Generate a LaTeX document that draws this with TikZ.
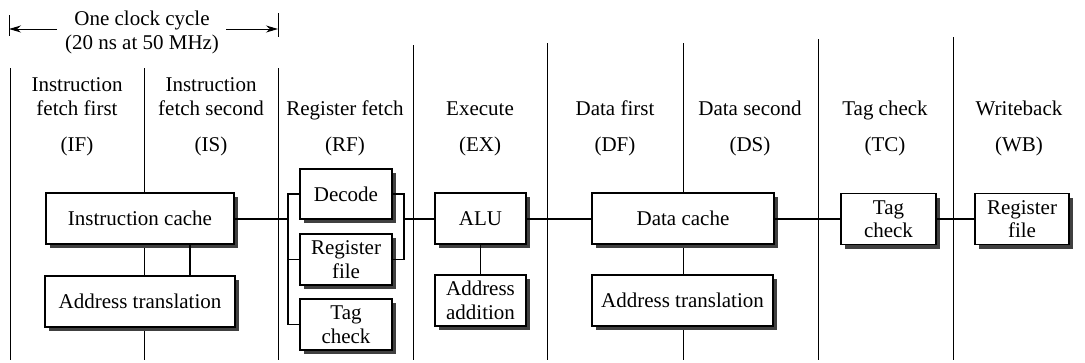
\documentclass[tikz,border=0pt]{standalone}
\usepackage{fontspec}
\setmainfont{Liberation Serif}
\usetikzlibrary{arrows.meta,shadows}

\begin{document}
\begin{tikzpicture}[x=1pt,y=-1pt,
  every node/.style={font=\fontsize{21}{23.5}\selectfont},
  divider/.style={line width=0.8pt},
  link/.style={line width=1.4pt},
  stagebox/.style={draw, line width=1.2pt, fill=white, inner sep=0pt,
    minimum height=51pt, align=center,
    drop shadow={shadow xshift=4pt, shadow yshift=-4pt, fill=black!75, opacity=1}},
  head/.style={anchor=base, align=center, inner sep=0pt},
  timing/.style={line width=1pt, -{Stealth[length=12pt,width=7pt]}}
]
\useasboundingbox (0,0) rectangle (1085,362);

% clock-cycle span
\coordinate (tl1) at (9,15);  \coordinate (tl2) at (9,36);
\coordinate (tr1) at (278,13); \coordinate (tr2) at (278,37);
\draw[divider] (tl1) -- (tl2);
\draw[divider] (tr1) -- (tr2);
\node[head] (cyc1) at (142,25) {One clock cycle};
\node[head] (cyc2) at (142,49) {(20 ns at 50 MHz)};
\coordinate (al) at (57,29);  \coordinate (alt) at (9,29);
\coordinate (ar) at (226,29); \coordinate (art) at (278,29);
\draw[timing] (al) -- (alt);
\draw[timing] (ar) -- (art);

% stage dividers
\foreach \x/\t in {10/68, 144/68, 278/68, 413/45, 547/43, 683/43, 818/39, 953/37}
  \draw[divider] (\x,\t) -- (\x,360);

% stage names (multi-line nodes sit on the baseline of their last line)
\node[head] (hIF) at (77,115)  {Instruction\\fetch first};
\node[head] (hIS) at (211,115) {Instruction\\fetch second};
\node[head] (hRF) at (345,115) {Register fetch};
\node[head] (hEX) at (480,115) {Execute};
\node[head] (hDF) at (615,115) {Data first};
\node[head] (hDS) at (750,115) {Data second};
\node[head] (hTC) at (885,115) {Tag check};
\node[head] (hWB) at (1019,115) {Writeback};
\foreach \x/\a in {77/IF, 211/IS, 345/RF, 480/EX, 615/DF, 750/DS, 885/TC, 1019/WB}
  \node[head] (ab\a) at (\x,151) {(\a)};

% pipeline units
\node[stagebox, minimum width=188pt] (ic)   at (140,218.5) {Instruction cache};
\node[stagebox, minimum width=190pt] (at1)  at (140,301.5) {Address translation};
\node[stagebox, minimum width=92pt, minimum height=50pt] (dec) at (346,194) {Decode};
\node[stagebox, minimum width=92pt]  (rf)   at (346,259.5) {Register\\file};
\node[stagebox, minimum width=92pt]  (tag1) at (346,324.5) {Tag\\check};
\node[stagebox, minimum width=91pt]  (alu)  at (480.5,218.5) {ALU};
\node[stagebox, minimum width=91pt]  (aa)   at (480.5,300.5) {Address\\addition};
\node[stagebox, minimum width=182pt] (dc)   at (683,218.5) {Data cache};
\node[stagebox, minimum width=181pt] (at2)  at (682.5,300.5) {Address translation};
\node[stagebox, minimum width=95pt]  (tag2) at (888.5,219) {Tag\\check};
\node[stagebox, minimum width=94pt]  (wb)   at (1022,219) {Register\\file};

% connections
\coordinate (lb) at (288,219);
\coordinate (rb) at (404,219);
\coordinate (xc) at (190,0);
\draw[link] (ic.east |- lb) -- (lb);
\draw[link] (dec.west) -- (dec.west -| lb) |- (tag1.west);
\draw[link] (rf.west) -- (rf.west -| lb);
\draw[link] (dec.east) -- (dec.east -| rb) |- (rf.east);
\draw[link] (rb) -- (alu.west |- rb);
\draw[link] (ic.south -| xc) -- (at1.north -| xc);
\draw[link] (alu.south) -- (aa.north);
\draw[link] (alu.east |- lb) -- (dc.west |- lb);
\draw[link] (dc.east |- lb) -- (tag2.west |- lb);
\draw[link] (tag2.east |- lb) -- (wb.west |- lb);
\end{tikzpicture}
\end{document}
